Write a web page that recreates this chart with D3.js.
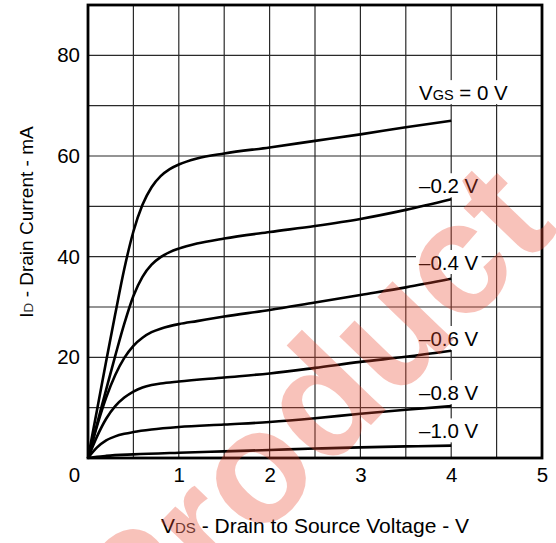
<!DOCTYPE html>
<html><head><meta charset="utf-8">
<script src="https://cdn.jsdelivr.net/npm/d3@7"></script>
<style>
body{margin:0;background:#fff}
svg{display:block}
text{font-family:"Liberation Sans",Arial,Helvetica,sans-serif;fill:#000}
</style>
</head><body>
<svg id="chart" width="556" height="543"></svg>
<script>
// ---- data ----
const vdsTicks = [0, 1, 2, 3, 4, 5];
const idTicks = [20, 40, 60, 80];
const vdsGrid = [0.5, 1, 1.5, 2, 2.5, 3, 3.5, 4, 4.5];
const idGrid = [10, 20, 30, 40, 50, 60, 70, 80];
const seriesNames = ["0 V", "–0.2 V", "–0.4 V", "–0.6 V", "–0.8 V", "–1.0 V"];
// label baseline positions in mA (layout of annotations)
const labelAt = [71.1, 52.6, 37.35, 22.25, 11.5, 3.9];

const vgs0   = [[0,0],[0.1,9.6],[0.2,19.2],[0.3,28.6],[0.4,37.6],[0.5,45],[0.6,50.3],[0.7,53.8],[0.8,56],[0.9,57.4],[1,58.3],[1.2,59.5],[1.5,60.5],[2,61.7],[2.5,63],[3,64.3],[3.5,65.7],[4,67]];
const vgsM02 = [[0,0],[0.1,6.8],[0.2,13.6],[0.3,20.3],[0.4,26.7],[0.5,32.2],[0.6,36],[0.7,38.4],[0.8,39.9],[0.9,40.9],[1,41.6],[1.2,42.6],[1.5,43.6],[2,44.9],[2.5,46.1],[3,47.5],[3.5,49.3],[4,51.4]];
const vgsM04 = [[0,0],[0.1,6.4],[0.2,12],[0.3,16.5],[0.4,19.9],[0.5,22.3],[0.6,23.9],[0.7,25],[0.8,25.7],[0.9,26.2],[1,26.6],[1.2,27.2],[1.5,28.1],[2,29.4],[2.5,30.9],[3,32.4],[3.5,33.9],[4,35.6]];
const vgsM06 = [[0,0],[0.1,4.3],[0.2,7.8],[0.3,10.3],[0.4,12],[0.5,13.2],[0.6,14],[0.7,14.5],[0.8,14.8],[1,15.2],[1.5,16],[2,16.8],[2.5,17.9],[3,19.1],[3.5,20.1],[4,21.3]];
const vgsM08 = [[0,0],[0.1,2.1],[0.2,3.5],[0.3,4.3],[0.4,4.8],[0.5,5.15],[0.7,5.65],[1,6.15],[1.5,6.65],[2,7.15],[2.5,7.9],[3,8.8],[3.5,9.6],[4,10.3]];
const vgsM10 = [[0,0],[0.1,0.25],[0.2,0.42],[0.5,0.72],[1,1.05],[1.5,1.32],[2,1.6],[2.5,1.88],[3,2.12],[3.5,2.3],[4,2.45]];
const allSeries = [vgs0, vgsM02, vgsM04, vgsM06, vgsM08, vgsM10];

// ---- layout ----
const svg = d3.select("#chart");
const L = 88, T = 5, R = 542, B = 458;
const x = d3.scaleLinear().domain([0, 5]).range([L, R]);
const y = d3.scaleLinear().domain([0, 90]).range([B, T]);
const FS = 20.5, SUB = 14.5;

// grid
const grid = svg.append("g").attr("stroke", "#2a2a2a").attr("stroke-width", 1.2);
grid.selectAll("line.v").data(vdsGrid).join("line")
  .attr("x1", d => x(d)).attr("x2", d => x(d)).attr("y1", T).attr("y2", B);
grid.selectAll("line.h").data(idGrid).join("line")
  .attr("x1", L).attr("x2", R).attr("y1", d => y(d)).attr("y2", d => y(d));

// labels with white background
const labG = svg.append("g");
const labTexts = [];
seriesNames.forEach((name, i) => {
  const t = labG.append("text").attr("x", 419).attr("y", y(labelAt[i])).attr("font-size", FS);
  if (i === 0) {
    t.append("tspan").text("V");
    t.append("tspan").attr("font-size", SUB).text("GS");
    t.append("tspan").text(" = " + name);
  } else {
    t.text(name);
  }
  labTexts.push(t);
});
labTexts.forEach(t => {
  const bb = t.node().getBBox();
  const by = +t.attr("y");
  labG.insert("rect", "text").attr("x", bb.x - 3).attr("width", bb.width + 6)
    .attr("y", by - 20).attr("height", 24).attr("fill", "#fff");
});

// frame
svg.append("rect").attr("x", L).attr("y", T).attr("width", R - L).attr("height", B - T)
  .attr("fill", "none").attr("stroke", "#000").attr("stroke-width", 2.8);

// curves
const line = d3.line().x(d => x(d[0])).y(d => y(d[1])).curve(d3.curveMonotoneX);
svg.append("g").selectAll("path").data(allSeries).join("path")
  .attr("d", line).attr("fill", "none").attr("stroke", "#000").attr("stroke-width", 2.6)
  .attr("stroke-linejoin", "round");

// axes
const xAxis = svg.append("g").attr("transform", `translate(0,${B})`)
  .call(d3.axisBottom(x).tickValues(vdsTicks).tickSize(0).tickPadding(9.4).tickFormat(d3.format("d")));
xAxis.select(".domain").remove();
xAxis.selectAll("text").attr("font-size", FS).attr("font-family", null).attr("fill", "#000")
  .attr("dx", d => d === 0 ? -14 : 0);
const yAxis = svg.append("g").attr("transform", `translate(${L},0)`)
  .call(d3.axisLeft(y).tickValues(idTicks).tickSize(0).tickPadding(8).tickFormat(d3.format("d")));
yAxis.select(".domain").remove();
yAxis.selectAll("text").attr("font-size", FS).attr("font-family", null).attr("fill", "#000");

// axis titles
const xt = svg.append("text").attr("x", (L + R) / 2).attr("y", 533).attr("text-anchor", "middle").attr("font-size", 21);
xt.append("tspan").text("V");
xt.append("tspan").attr("font-size", 15).attr("fill", "#333").text("DS");
xt.append("tspan").text(" - Drain to Source Voltage - V");
const yt = svg.append("text").attr("transform", "translate(33,222) rotate(-90)").attr("text-anchor", "middle").attr("font-size", 19);
yt.append("tspan").text("I");
yt.append("tspan").attr("font-size", 13.5).attr("fill", "#333").text("D");
yt.append("tspan").text(" - Drain Current - mA");

// watermark
svg.append("text").attr("transform", "translate(350,447) rotate(-46)")
  .attr("text-anchor", "middle").attr("font-size", 160).attr("font-weight", "bold")
  .style("fill", "rgb(235,70,45)").attr("fill-opacity", 0.33).text("Product");
</script>
</body></html>
